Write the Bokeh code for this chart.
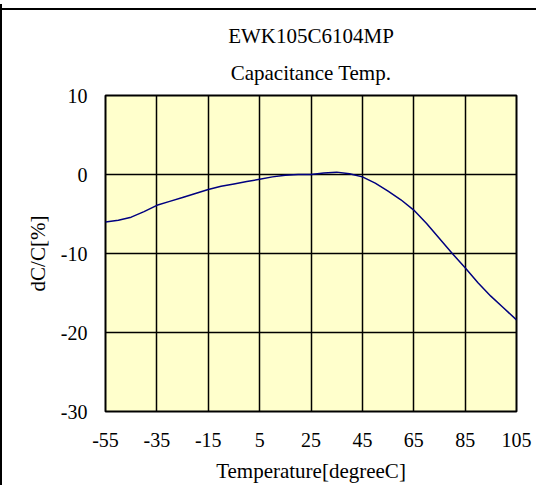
from bokeh.plotting import figure
from bokeh.models import Title, FixedTicker, Range1d, CustomJSTickFormatter
from bokeh.embed import file_html
from bokeh.resources import INLINE

# Data
temperature = [-55, -50, -45, -40, -35, -30, -25, -20, -15, -10, -5, 0, 5, 10, 15, 20,
               25, 30, 35, 40, 45, 50, 55, 60, 65, 70, 75, 80, 85, 90, 95, 100, 105]
dc_percent = [-6.0, -5.8, -5.4, -4.7, -3.9, -3.4, -2.9, -2.4, -1.9, -1.5, -1.2, -0.9, -0.6,
              -0.3, -0.1, 0.0, 0.0, 0.2, 0.3, 0.1, -0.3, -1.1, -2.1, -3.2, -4.5, -6.2, -8.1,
              -10.0, -11.8, -13.7, -15.4, -16.9, -18.4]
x_ticks = [-55, -35, -15, 5, 25, 45, 65, 85, 105]
y_ticks = [10, 0, -10, -20, -30]
title_line1 = "EWK105C6104MP"
title_line2 = "Capacitance Temp."
x_label = "Temperature[degreeC]"
y_label = "dC/C[%]"

FONT = "Liberation Serif"

p = figure(width=536, height=481, output_backend="svg", toolbar_location=None,
           x_range=Range1d(-55, 105), y_range=Range1d(-30, 10),
           min_border_left=103, min_border_right=22, min_border_top=91, min_border_bottom=74,
           background_fill_color="#FFFFCC", border_fill_color=None,
           styles={"border-left": "2px solid black",
                   "background": "linear-gradient(#000, #000) 0 4px / 100% 2px no-repeat",
                   "margin-top": "4px"})
p.title.visible = False

t2 = Title(text=title_line2, align="center", text_font=FONT, text_font_size="21px",
           text_font_style="normal", text_color="black", standoff=22)
t1 = Title(text=title_line1, align="center", text_font=FONT, text_font_size="21px",
           text_font_style="normal", text_color="black", standoff=0)
p.add_layout(t2, "above")
p.add_layout(t1, "above")

p.outline_line_color = "black"
p.outline_line_width = 2

fmt = CustomJSTickFormatter(code="return String(tick);")
for ax in (p.xaxis, p.yaxis):
    ax.axis_line_color = None
    ax.major_tick_line_color = None
    ax.minor_tick_line_color = None
    ax.major_tick_in = 0
    ax.major_tick_out = 0
    ax.minor_tick_in = 0
    ax.minor_tick_out = 0
    ax.formatter = fmt
    ax.major_label_text_font = FONT
    ax.major_label_text_font_size = "20px"
    ax.major_label_text_color = "black"
    ax.axis_label_text_font = FONT
    ax.axis_label_text_font_size = "21px"
    ax.axis_label_text_font_style = "normal"
    ax.axis_label_text_color = "black"

p.xaxis.ticker = FixedTicker(ticks=x_ticks)
p.yaxis.ticker = FixedTicker(ticks=y_ticks)
p.xaxis.axis_label = x_label
p.yaxis.axis_label = y_label
p.xaxis.major_label_standoff = 21
p.yaxis.major_label_standoff = 18
p.xaxis.axis_label_standoff = 9
p.yaxis.axis_label_standoff = 8

p.xgrid.ticker = FixedTicker(ticks=x_ticks)
p.ygrid.ticker = FixedTicker(ticks=y_ticks)
for g in (p.xgrid, p.ygrid):
    g.grid_line_color = "black"
    g.grid_line_width = 1.5
    g.grid_line_alpha = 1.0

p.line(temperature, dc_percent, line_color="#000080", line_width=1.5)

open("out.html", "w").write(file_html(p, INLINE))
